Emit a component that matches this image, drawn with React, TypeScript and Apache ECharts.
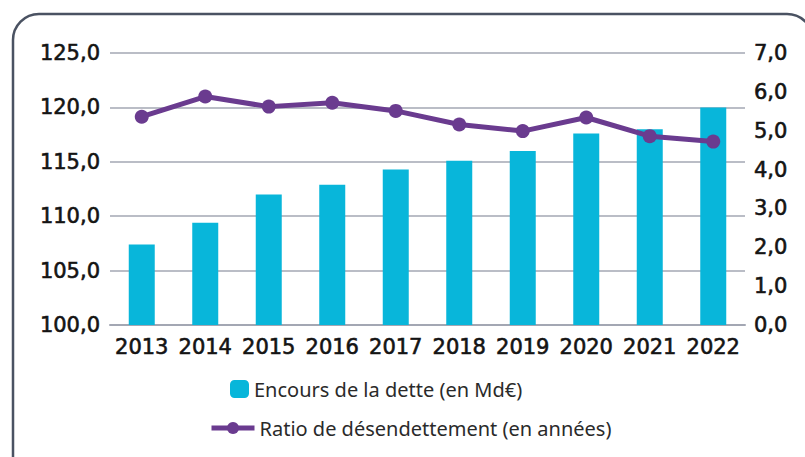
import React, { useEffect, useRef } from "react";
import * as echarts from "echarts";

const years = ["2013", "2014", "2015", "2016", "2017", "2018", "2019", "2020", "2021", "2022"];
const encoursDette = [107.4, 109.4, 112.0, 112.9, 114.3, 115.1, 116.0, 117.6, 118.0, 120.0];
const ratioDesendettement = [5.36, 5.88, 5.62, 5.72, 5.51, 5.16, 4.99, 5.34, 4.86, 4.72];
const barName = "Encours de la dette (en Md€)";
const lineName = "Ratio de désendettement (en années)";

const fmt = (v: number) => v.toFixed(1).replace(".", ",");

export default function App() {
  const ref = useRef<HTMLDivElement>(null);
  useEffect(() => {
    if (!ref.current) return;
    const chart = echarts.init(ref.current, null, { renderer: "svg" });
    const axisFont = {
      fontFamily: "DejaVu Sans",
      fontSize: 21,
      color: "#141414",
      textBorderColor: "#141414",
      textBorderWidth: 0.6,
    };
    const legendText = { fontFamily: "Noto Sans", fontSize: 20, color: "#2a2a2a" };
    chart.setOption({
      animation: false,
      backgroundColor: "#ffffff",
      graphic: [
        {
          type: "rect",
          shape: { x: 13, y: 14, width: 800, height: 470, r: 26 },
          style: { fill: "none", stroke: "#4a5262", lineWidth: 2.5 },
          z: -1,
        },
      ],
      grid: { left: 110, right: 60, top: 53, bottom: 132 },
      legend: [
        {
          data: [barName],
          left: 225,
          top: 374,
          itemWidth: 19,
          itemHeight: 18,
          itemGap: 8,
          textStyle: legendText,
        },
        {
          data: [lineName],
          left: 204,
          top: 413,
          itemWidth: 43,
          itemHeight: 15,
          itemGap: 6,
          lineStyle: { width: 5 },
          textStyle: legendText,
        },
      ],
      xAxis: {
        type: "category",
        data: years,
        axisTick: { show: false },
        axisLine: { lineStyle: { color: "#a3a7b3", width: 2 } },
        axisLabel: { ...axisFont, margin: 11, interval: 0 },
      },
      yAxis: [
        {
          type: "value",
          min: 100,
          max: 125,
          interval: 5,
          axisLine: { show: false },
          axisTick: { show: false },
          splitLine: { lineStyle: { color: "#a3a7b3", width: 1.5 } },
          axisLabel: { ...axisFont, margin: 10, formatter: (v: number) => fmt(v) },
        },
        {
          type: "value",
          min: 0,
          max: 7,
          interval: 1,
          position: "right",
          axisLine: { show: false },
          axisTick: { show: false },
          splitLine: { show: false },
          axisLabel: { ...axisFont, margin: 9, formatter: (v: number) => fmt(v) },
        },
      ],
      series: [
        {
          name: barName,
          type: "bar",
          data: encoursDette,
          yAxisIndex: 0,
          barWidth: 26,
          itemStyle: { color: "#08b6da" },
        },
        {
          name: lineName,
          type: "line",
          data: ratioDesendettement,
          yAxisIndex: 1,
          symbol: "circle",
          symbolSize: 14,
          lineStyle: { color: "#6a3b8f", width: 5 },
          itemStyle: { color: "#6a3b8f" },
        },
      ],
    });
    return () => chart.dispose();
  }, []);
  return (
    <div
      ref={ref}
      style={{ position: "absolute", left: 0, top: 0, width: 805, height: 457 }}
    />
  );
}
